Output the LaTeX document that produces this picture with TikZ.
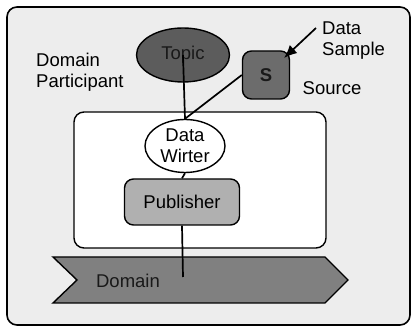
\documentclass[tikz,border=0pt]{standalone}
\usepackage{fontspec}
\setmainfont{Liberation Sans}
\usetikzlibrary{shapes.geometric,arrows.meta}
\definecolor{bgpaper}{HTML}{EDEDED}
\definecolor{topicgray}{HTML}{5C5C5C}
\definecolor{srcgray}{HTML}{6C6C6C}
\definecolor{pubgray}{HTML}{B0B0B0}
\definecolor{domgray}{HTML}{808080}
\tikzset{
  lbl/.style={font=\fontsize{18.5}{21}\selectfont, inner sep=0pt},
  wire/.style={line width=1.7pt, black},
  frame/.style={line width=1.6pt, draw=black, rounded corners=10pt},
}
\begin{document}
\begin{tikzpicture}[x=1pt,y=-1pt]
\useasboundingbox (0,0) rectangle (413,328);
% participant frame
\draw[frame, fill=bgpaper] (7,7) rectangle (410,325);
% inner container
\draw[frame, fill=white, line width=1.4pt] (74,112) rectangle (326,248);
% domain banner
\draw[line width=1.4pt, fill=domgray]
  (53,257) -- (325,257) -- (348,280) -- (325,303) -- (53,303) -- (77,280) -- cycle;
\node[lbl, text=black!90] (domain) at (128,281) {Domain};
\coordinate (domtap) at (183,277);
% nodes
\node[ellipse, draw, line width=1.4pt, fill=topicgray, minimum width=93pt, minimum height=54pt,
      lbl, text=black!90] (topic) at (183,55) {Topic};
\node[draw, line width=1.4pt, fill=srcgray, rounded corners=9pt, minimum width=47pt,
      minimum height=48pt, lbl, font=\fontsize{18.5}{21}\selectfont\bfseries, text=black!90] (src) at (266,75) {S};
\node[ellipse, draw, line width=1.4pt, fill=white, minimum width=80pt, minimum height=53pt,
      lbl, align=center] (writer) at (185,146) {Data\\Wirter};
\node[draw, line width=1.4pt, fill=pubgray, rounded corners=9pt, minimum width=115pt,
      minimum height=46pt, lbl] (pub) at (182,202) {Publisher};
% labels
\node[lbl, align=left, anchor=west] (dp) at (36,72) {Domain\\Participant};
\node[lbl, align=left, anchor=west] (ds) at (322,41) {Data\\Sample};
\node[lbl] (source) at (332,88) {Source};
\coordinate (dsin) at (316,28);
\coordinate (srctip) at (284,58);
% connectors
\draw[wire] (topic.center) -- (writer.north);
\draw[wire] (src.west) -- (writer.north);
\draw[wire] (writer.south) -- (pub.north);
\draw[wire] (pub.south) -- (domtap);
\draw[wire, -{Latex[length=13pt,width=11pt]}] (dsin) -- (srctip);
\end{tikzpicture}
\end{document}
